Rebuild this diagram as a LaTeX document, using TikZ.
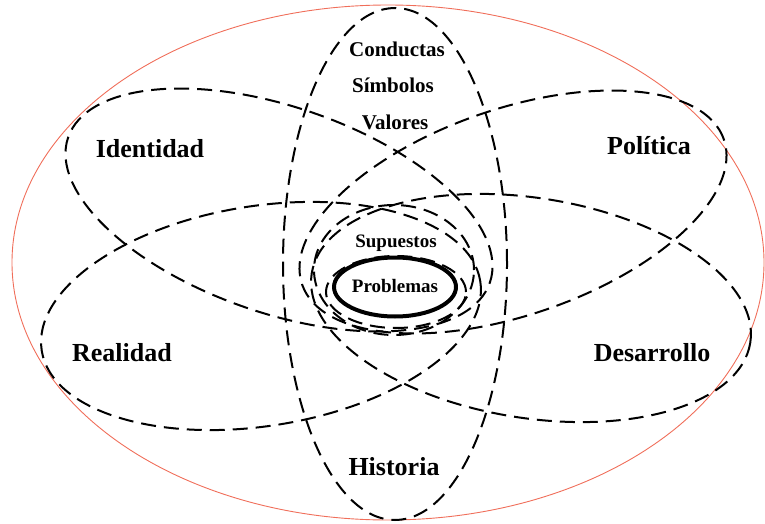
\documentclass[tikz,border=0pt]{standalone}
\usepackage{fontspec}
\setmainfont{Liberation Serif}
\definecolor{borde}{RGB}{240,110,90}
\tikzset{
  trazo/.style={line width=2pt, dash pattern=on 15pt off 8pt},
  grande/.style={font=\bfseries\fontsize{26}{30}\selectfont, anchor=base, inner sep=0pt},
  mediana/.style={font=\bfseries\fontsize{21}{25}\selectfont, anchor=base, inner sep=0pt},
  chica/.style={font=\bfseries\fontsize{19}{23}\selectfont, anchor=base, inner sep=0pt}
}
\begin{document}
\begin{tikzpicture}[x=1pt, y=1pt, line join=round]
\def\ra{223} \def\rb{103} % elipses superiores
\def\rc{222} \def\rd{110} % elipses inferiores
\useasboundingbox (0,0) rectangle (765,523);
% contorno
\draw[borde, line width=0.9pt] (388,260.5) ellipse [x radius=376, y radius=257.5];
% elipses
\draw[trazo] (395,259) ellipse [x radius=112, y radius=256];
\draw[trazo, rotate around={-19:(279,313)}] (279,313) ellipse [x radius=\ra, y radius=\rb];
\draw[trazo, rotate around={19:(513,311)}] (513,311) ellipse [x radius=\ra, y radius=\rb];
\draw[trazo, rotate around={9:(261,207)}] (261,207) ellipse [x radius=\rc, y radius=\rd];
\draw[trazo, rotate around={-9:(531,215)}] (531,215) ellipse [x radius=\rc, y radius=\rd];
\draw[trazo] (394,253) ellipse [x radius=80, y radius=65];
\draw[trazo] (396,231) ellipse [x radius=70, y radius=36];
\draw[line width=4pt] (395,236) ellipse [x radius=61, y radius=29.5];
% textos
\node[mediana] (conductas) at (397,466) {Conductas};
\node[mediana] (simbolos) at (393,430) {Símbolos};
\node[mediana] (valores) at (395,393) {Valores};
\node[grande] (identidad) at (150,365) {Identidad};
\node[grande] (politica) at (649,368) {Política};
\node[grande] (realidad) at (122,162) {Realidad};
\node[grande] (desarrollo) at (652,162) {Desarrollo};
\node[grande] (historia) at (394,48) {Historia};
\node[chica] (supuestos) at (396,276) {Supuestos};
\node[chica] (problemas) at (395,231) {Problemas};
\end{tikzpicture}
\end{document}
